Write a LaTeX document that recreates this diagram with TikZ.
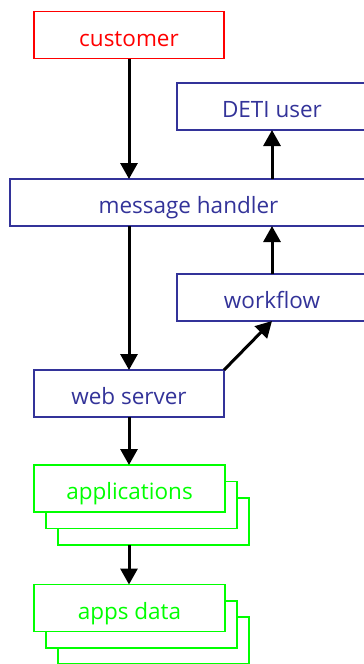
\documentclass[tikz,border=0pt]{standalone}
\usepackage{fontspec}
\setmainfont{Open Sans}
\usetikzlibrary{arrows.meta}
\definecolor{boxblue}{HTML}{333399}
\definecolor{boxred}{HTML}{FF0000}
\definecolor{boxgreen}{HTML}{00FF00}
% label text: baseline a fixed distance below the box centre
\newcommand{\lbl}[1]{\raisebox{-11pt}[0pt][0pt]{#1}}
\tikzset{
  box/.style={draw=boxblue, text=boxblue, line width=1.5pt, fill=white,
    minimum height=47pt, outer sep=0pt, inner sep=0pt,
    font=\fontsize{22.5}{26}\selectfont},
  redbox/.style={box, draw=boxred, text=boxred},
  greenbox/.style={box, draw=boxgreen, text=boxgreen, minimum width=191pt},
  flow/.style={line width=3pt, -{Triangle[length=16pt,width=17pt]}}
}
\begin{document}
\begin{tikzpicture}[x=1pt,y=-1pt]
  \useasboundingbox (0,0) rectangle (364,664);
  \clip (0,0) rectangle (364,664);

  % upper part of the chain
  \node[redbox, minimum width=190pt] (cust) at (129,35) {\lbl{customer}};
  \node[box, minimum width=190pt] (deti) at (272,106.5) {\lbl{DETI user}};
  \node[box, minimum width=357pt] (mh) at (188.5,202.5) {\lbl{message handler}};
  \node[box, minimum width=190pt] (wf) at (272,297.5) {\lbl{workflow}};
  \node[box, minimum width=190pt] (web) at (129,393.5) {\lbl{web server}};

  % stacked application boxes
  \node[greenbox] (apps3) at (153.5,521.5) {};
  \node[greenbox] (apps2) at (141.5,505) {};
  \node[greenbox] (apps) at (129.5,488.5) {\lbl{applications}};

  \node[greenbox] (data3) at (153.5,640.5) {};
  \node[greenbox] (data2) at (141.5,624.5) {};
  \node[greenbox] (data) at (129.5,608) {\lbl{apps data}};

  % connectors
  \draw[flow] (cust.south) -- (mh.north -| cust.south);
  \draw[flow] (mh.south -| web.north) -- (web.north);
  \draw[flow] (web.north east) -- (wf.south);
  \draw[flow] (wf.north) -- (mh.south -| wf.north);
  \draw[flow] (mh.north -| deti.south) -- (deti.south);
  \draw[flow] (web.south) -- (apps.north -| web.south);
  \draw[flow] (apps3.south -| web.south) -- (data.north -| web.south);
\end{tikzpicture}
\end{document}
